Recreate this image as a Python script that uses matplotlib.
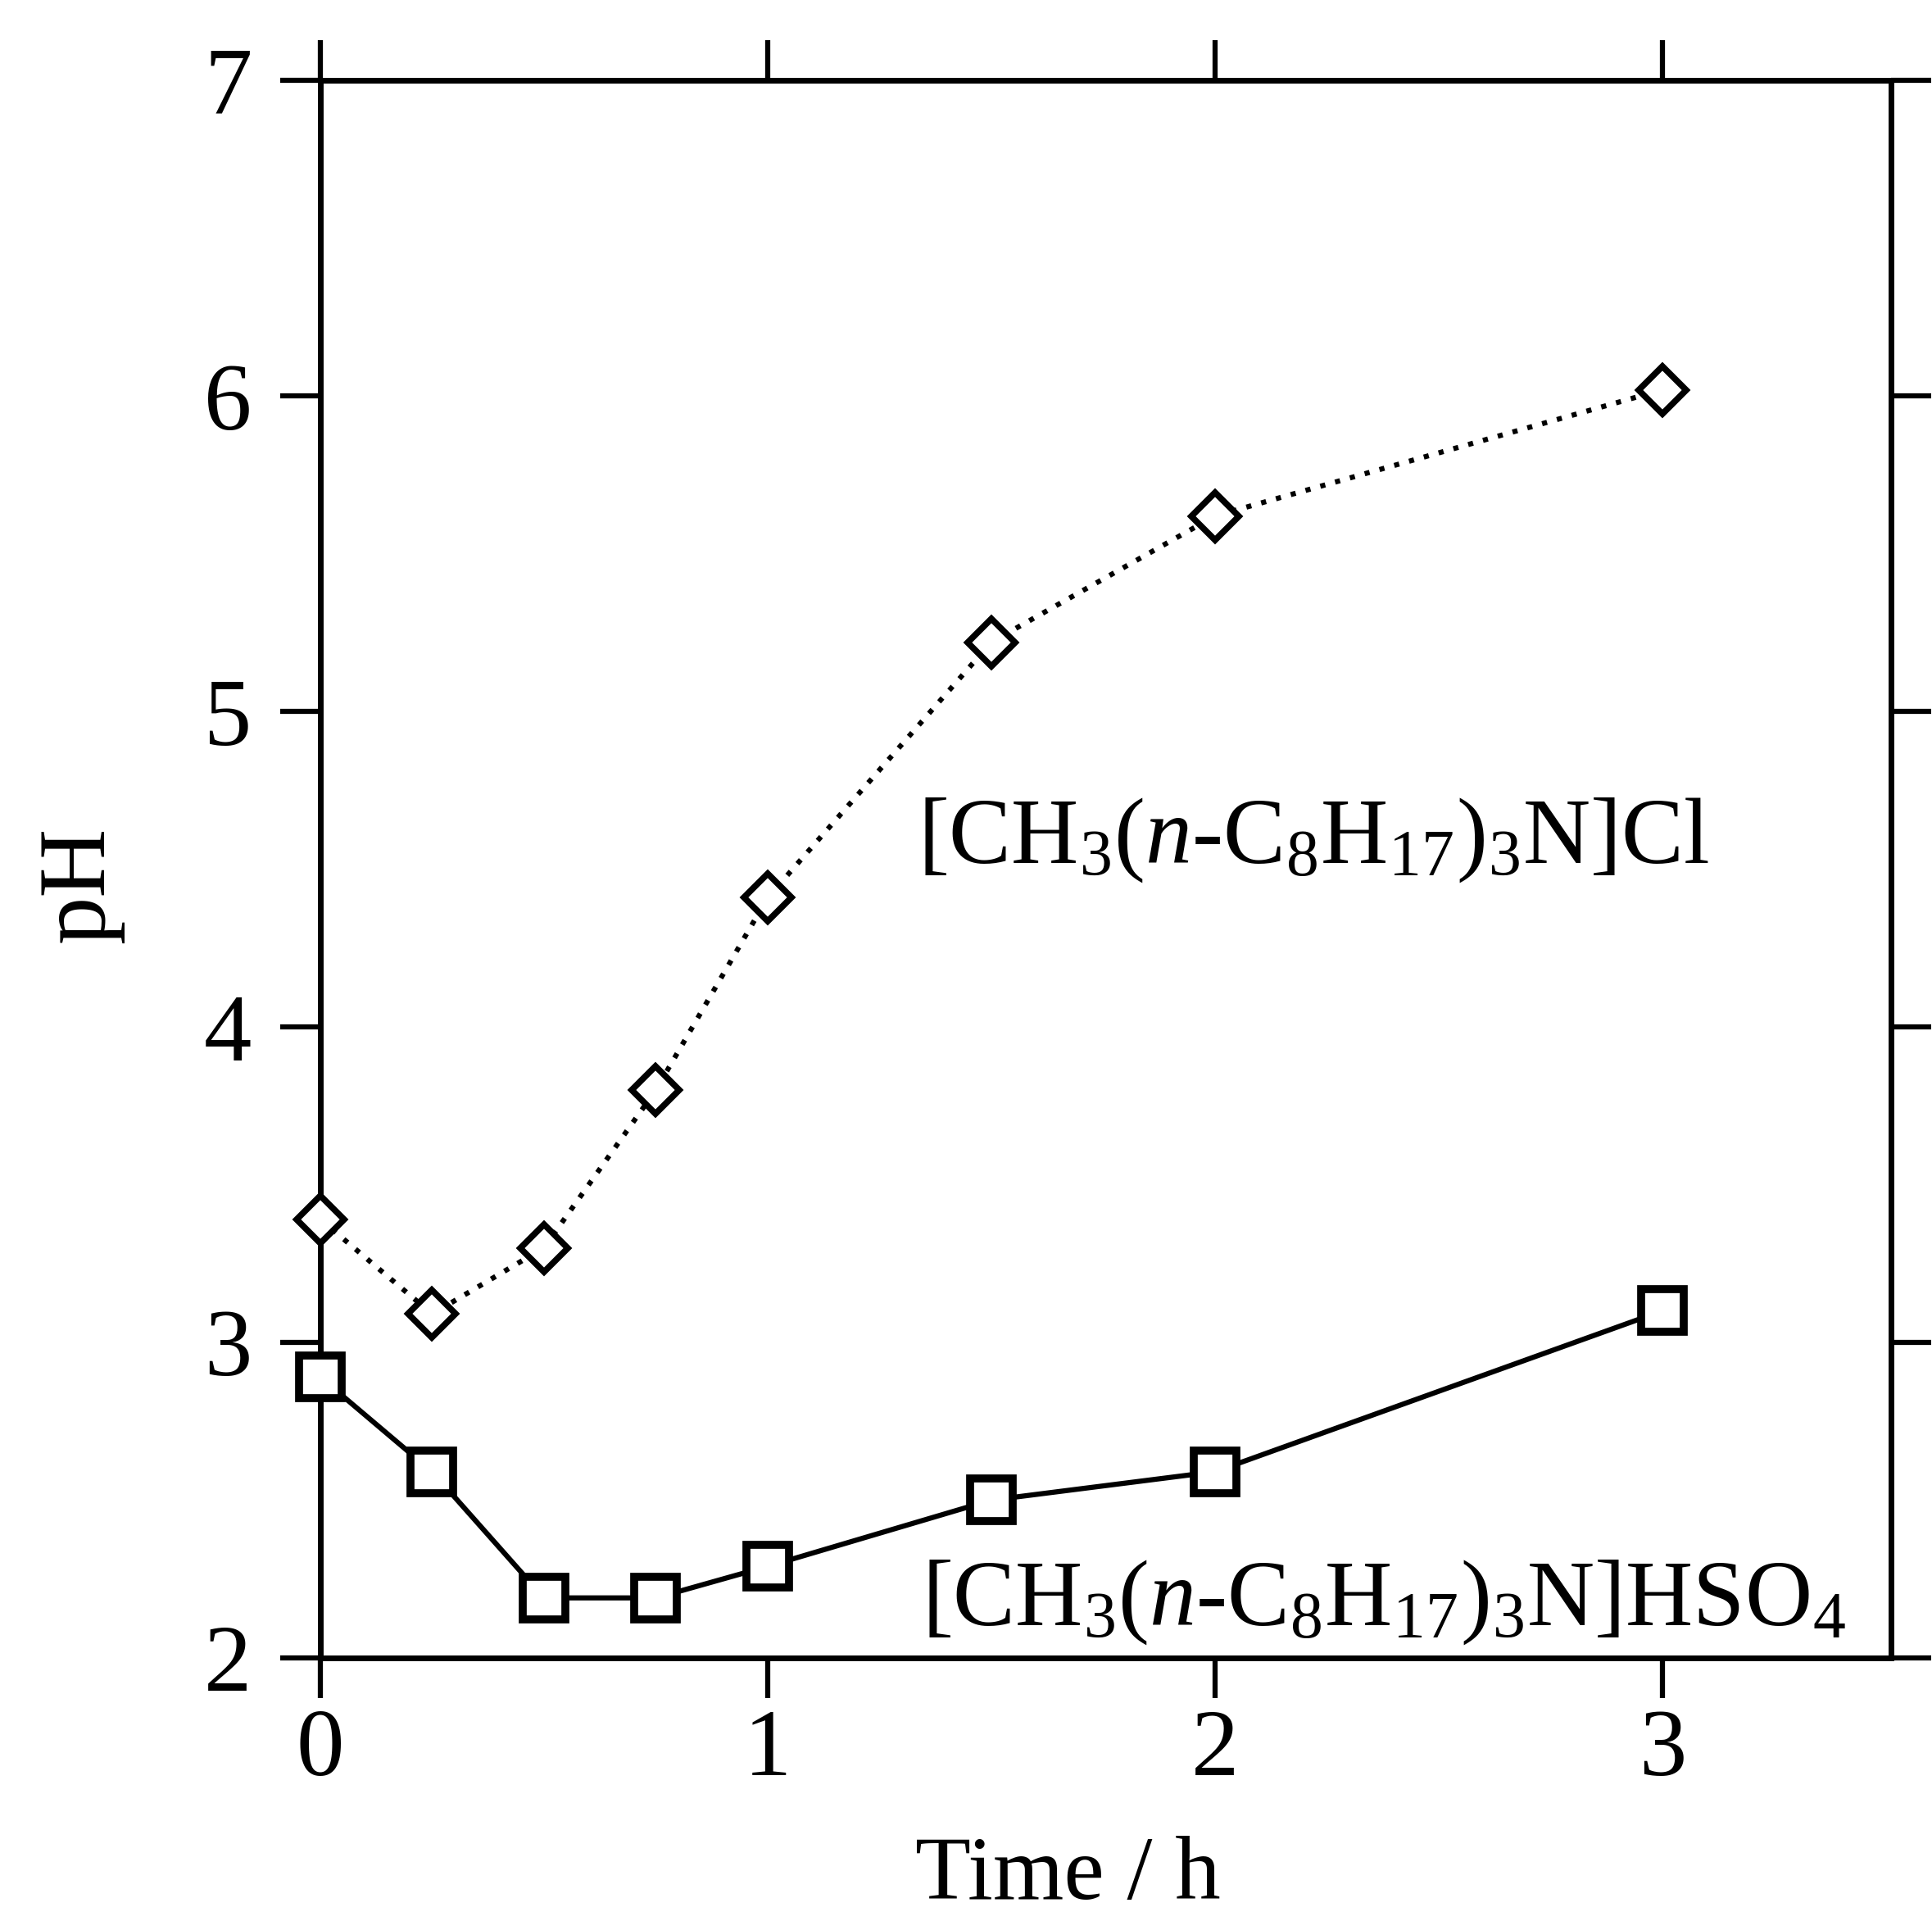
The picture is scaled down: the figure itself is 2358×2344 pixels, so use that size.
import matplotlib
matplotlib.use("Agg")
import matplotlib.pyplot as plt

# pH vs time for the two ionic liquids
time_h = [0, 0.25, 0.5, 0.75, 1, 1.5, 2, 3]
ph_chloride = [3.39, 3.09, 3.30, 3.80, 4.41, 5.22, 5.62, 6.02]
ph_hso4 = [2.89, 2.59, 2.19, 2.19, 2.29, 2.50, 2.59, 3.10]

x_ticks = [0, 1, 2, 3]
y_ticks = [2, 3, 4, 5, 6, 7]
label_chloride = r'[CH$_3$($n$-C$_8$H$_{17}$)$_3$N]Cl'
label_hso4 = r'[CH$_3$($n$-C$_8$H$_{17}$)$_3$N]HSO$_4$'

plt.rcParams['font.family'] = ['Liberation Serif', 'DejaVu Serif']
plt.rcParams['mathtext.fontset'] = 'custom'
plt.rcParams['mathtext.rm'] = 'Liberation Serif'
plt.rcParams['mathtext.it'] = 'Liberation Serif:italic'

fig = plt.figure(figsize=(23.58, 23.44), dpi=100)
ax = fig.add_axes([0.1658, 0.137, 0.979 - 0.1658, 0.958 - 0.137])

# dotted line with open diamonds
ax.plot(time_h, ph_chloride, color='black', lw=4.5, linestyle=(0, (1, 2.0)),
        marker='D', ms=30, mfc='white', mec='black', mew=5.5,
        clip_on=False, zorder=5)
# solid line with open squares
ax.plot(time_h, ph_hso4, color='black', lw=4.5, linestyle='-',
        marker='s', ms=37, mfc='white', mec='black', mew=7,
        clip_on=False, zorder=5)

ax.text(1.336, 4.52, label_chloride, fontsize=82, ha='left', va='baseline')
ax.text(1.344, 2.105, label_hso4, fontsize=82, ha='left', va='baseline')

ax.set_xlim(0, 3.512)
ax.set_ylim(2, 7)
ax.set_xticks(x_ticks)
ax.set_yticks(y_ticks)

for sp in ax.spines.values():
    sp.set_linewidth(5)

ax.tick_params(direction='out', length=35, width=4.5, labelsize=84,
               top=True, right=True, labeltop=False, labelright=False)
ax.tick_params(axis='y', pad=25)
ax.tick_params(axis='x', pad=10)

ax.set_xlabel('Time / h', fontsize=80)
ax.xaxis.set_label_coords(0.476, -0.113)
ax.set_ylabel('pH', fontsize=84)
ax.yaxis.set_label_coords(-0.125, 0.49)

plt.savefig('out.png', dpi=100)
